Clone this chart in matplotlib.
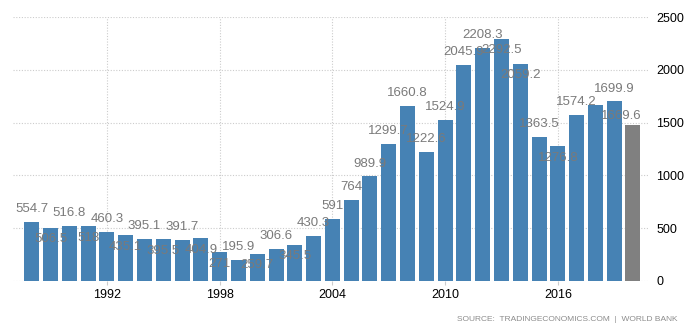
import numpy as np
import matplotlib
matplotlib.use("Agg")
import matplotlib.pyplot as plt

# ---------------------------------------------------------------------------
# Data
# ---------------------------------------------------------------------------
years = list(range(1988, 2021))
values = [554.7, 506.5, 516.8, 518.0, 460.3, 435.1, 395.1, 395.5, 391.7, 404.9,
          271.0, 195.9, 259.7, 306.6, 345.5, 430.3, 591.0, 764.0, 989.9, 1299.7,
          1660.8, 1222.6, 1524.9, 2045.9, 2208.3, 2292.5, 2059.2, 1363.5, 1276.8,
          1574.2, 1669.6, 1699.9, 1480.0]
labels = ["554.7", "506.5", "516.8", "518", "460.3", "435.1", "395.1", "395.5",
          "391.7", "404.9", "271", "195.9", "259.7", "306.6", "345.5", "430.3",
          "591", "764", "989.9", "1299.7", "1660.8", "1222.6", "1524.9", "2045.9",
          "2208.3", "2292.5", "2059.2", "1363.5", "1276.8", "1574.2", "1669.6",
          "1699.9", ""]
x_ticks = [1992, 1998, 2004, 2010, 2016]
y_ticks = [0, 500, 1000, 1500, 2000, 2500]

# label placement: True = above bar top, False = just inside the bar
above = [True, False, True, False, True, False, True, False, True, False,
         False, True, False, True, False, True, True, True, True, True,
         True, True, True, True, True, False, False, True, False, True,
         False, True, True]

BLUE = "#4682b4"
GREY = "#808080"
LABEL = "#7a7a7a"
GRID = "#cccccc"

plt.rcParams["font.family"] = ["Liberation Sans", "DejaVu Sans"]

fig = plt.figure(figsize=(6.92, 3.27), dpi=100)
ax = fig.add_axes([0.0188, 0.1407, 0.9176, 0.8073])

colors = [BLUE] * (len(years) - 1) + [GREY]
ax.bar(years, values, width=0.8, color=colors, zorder=2)

for i, (yr, v, lab) in enumerate(zip(years, values, labels)):
    if not lab:
        continue
    dx = 1.4 if yr == 2018 else 0.0
    if above[i]:
        ax.annotate(lab, (yr + dx, v), xytext=(0, 5), textcoords="offset points",
                    ha="center", va="bottom", fontsize=9.5, color=LABEL, zorder=3)
    else:
        ax.annotate(lab, (yr + dx, v), xytext=(0, -4), textcoords="offset points",
                    ha="center", va="top", fontsize=9.5, color=LABEL, zorder=3)

ax.set_xlim(1987.0, 2020.8)
ax.set_ylim(0, 2500)
ax.set_xticks(x_ticks)
ax.set_xticklabels([str(t) for t in x_ticks])
ax.set_yticks(y_ticks)
ax.yaxis.tick_right()
ax.tick_params(axis="y", length=0, pad=6, labelsize=9)
ax.tick_params(axis="x", length=3, color=GRID, pad=3, labelsize=9)

ax.grid(True, color=GRID, ls=(0, (1, 1.5)), lw=0.8, zorder=0)
for s in ax.spines.values():
    s.set_visible(False)

fig.text(0.979, 0.013, "SOURCE:  TRADINGECONOMICS.COM  |  WORLD BANK",
         ha="right", va="bottom", fontsize=6, color="#8c8c8c")

fig.savefig("out.png", dpi=100)
